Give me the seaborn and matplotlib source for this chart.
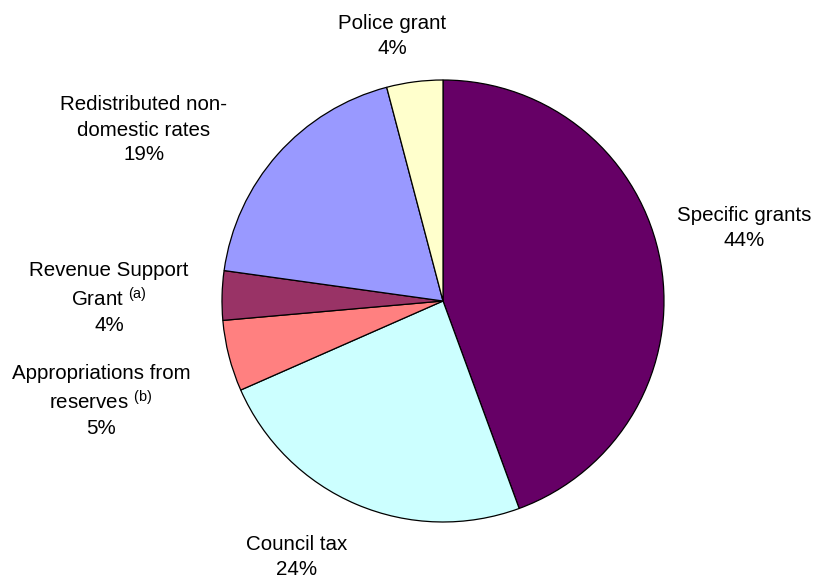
import matplotlib
matplotlib.use("Agg")
import matplotlib.pyplot as plt
import seaborn as sns

# dados do grafico (percentagens)
categorias = ["Specific grants", "Council tax", "Appropriations from\nreserves $^{\\mathrm{(b)}}$",
              "Revenue Support\nGrant $^{\\mathrm{(a)}}$", "Redistributed non-\ndomestic rates", "Police grant"]
valores = [44.4, 24.0, 5.2, 3.6, 18.7, 4.1]
cores = ["#660066", "#CCFFFF", "#FF8080", "#993366", "#9999FF", "#FFFFCC"]

# posicoes dos rotulos (pixels, a partir do topo)
pos_rotulos = [(744, 228), (297, 557), (101, 401), (109, 298), (144, 130), (392, 36)]

sns.set_theme(style="white")
plt.rcParams["font.family"] = ["Liberation Sans", "DejaVu Sans"]
plt.rcParams["mathtext.fontset"] = "custom"
plt.rcParams["mathtext.rm"] = "Liberation Sans"
plt.rcParams["mathtext.it"] = "Liberation Sans:italic"

fig = plt.figure(figsize=(8.16, 5.8), dpi=100)
ax = fig.add_axes([0, 0, 1, 1])

ax.pie(valores, colors=sns.color_palette(cores), startangle=90, counterclock=False,
       center=(443, 580 - 301), radius=221,
       wedgeprops=dict(edgecolor="black", linewidth=0.9))

# o pie() mexe nos limites, por isso define-se depois
ax.set_xlim(0, 816)
ax.set_ylim(0, 580)
ax.set_aspect("equal")
ax.axis("off")

total = sum(valores)
for nome, v, (px, py) in zip(categorias, valores, pos_rotulos):
    ax.text(px, 580 - py, f"{nome}\n{v / total * 100:.0f}%", ha="center", va="center",
            multialignment="center", fontsize=14.8, color="black", linespacing=1.4)

plt.savefig("out.png", dpi=100)
